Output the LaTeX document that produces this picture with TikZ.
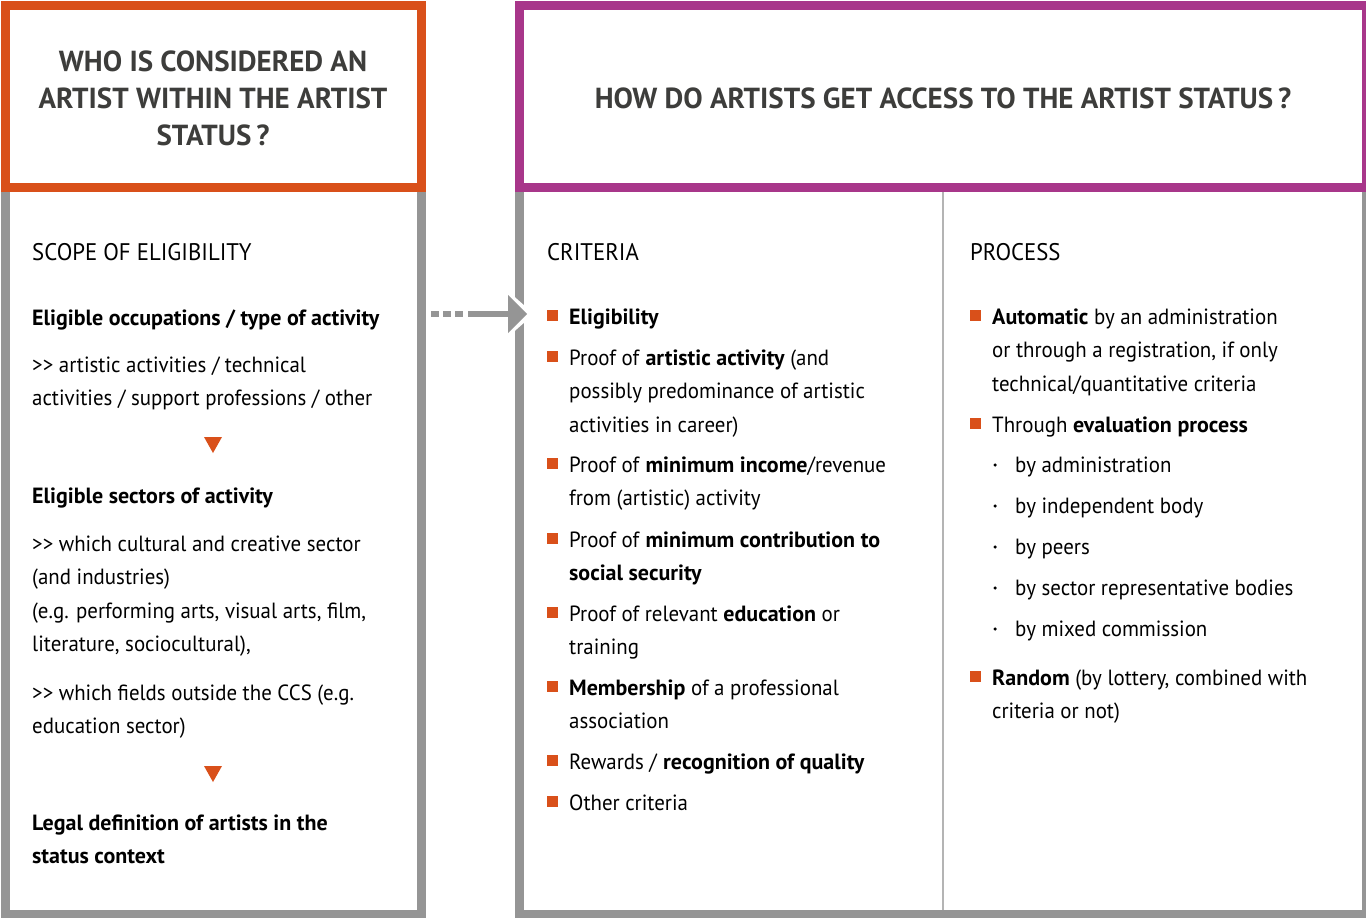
\documentclass[tikz,border=0pt]{standalone}
\usepackage{fontspec}
\setmainfont{PT Sans}[FakeStretch=0.95, BoldFeatures={FakeStretch=1.0}]
\usetikzlibrary{positioning}
\definecolor{euorange}{RGB}{217,80,26}
\definecolor{eupurple}{RGB}{168,54,138}
\definecolor{boxgrey}{RGB}{149,149,149}
\definecolor{divgrey}{RGB}{180,180,180}
\definecolor{titlegrey}{RGB}{61,61,59}
\newcommand{\gtgt}{>\kern0pt>}

\begin{document}
\begin{tikzpicture}[x=1pt,y=-1pt]
\tikzstyle{frame}=[line width=9pt]
\tikzstyle{title}=[align=center, inner sep=0, text=titlegrey, font=\fontsize{29}{37}\selectfont\bfseries]
\tikzstyle{head}=[anchor=base west, inner sep=0, font=\fontsize{24}{33}\selectfont]
\tikzstyle{txt}=[anchor=base west, inner sep=0, align=left, font=\fontsize{22}{33.5}\selectfont]
\tikzstyle{sq}=[rectangle, fill=euorange, minimum size=11pt, inner sep=0]
\tikzstyle{subdot}=[circle, fill=black, minimum size=3.5pt, inner sep=0]
\useasboundingbox (0,0) rectangle (1366,918);

% frames
\draw[frame, boxgrey] (5.5,187) rectangle (421.5,914.5);
\draw[frame, boxgrey] (519.5,187) rectangle (1366,914.5);
\draw[divgrey, line width=1.5pt] (943,192) -- (943,910);
\draw[frame, euorange] (5.5,5.5) rectangle (421.5,187.5);
\draw[frame, eupurple] (519.5,5.5) rectangle (1366,187.5);

\node[title] (whoT) at (213,98) {WHO IS CONSIDERED AN\\ARTIST WITHIN THE ARTIST\\STATUS\,?};
\node[title] (howT) at (943,98) {HOW DO ARTISTS GET ACCESS TO THE ARTIST STATUS\,?};

% arrow between the two parts
\coordinate (arrA) at (431,314);
\coordinate (arrB) at (463,314);
\coordinate (arrC) at (468,314);
\coordinate (arrD) at (510,314);
\fill[white] (500,284) -- (534,314) -- (500,344) -- cycle;
\draw[boxgrey, line width=6pt, dash pattern=on 8pt off 4pt] (arrA) -- (arrB);
\draw[boxgrey, line width=6pt] (arrC) -- (arrD);
\fill[boxgrey] (508,295) -- (527,314) -- (508,333) -- cycle;

% scope of eligibility (multi-line nodes sit on their last baseline)
\node[head] (scope) at (32,260) {SCOPE OF ELIGIBILITY};
\node[txt] (occ) at (32,325) {\textbf{Eligible occupations / type of activity}};
\node[txt] (occtxt) at (32,405.5) {\gtgt{} artistic activities / technical\\activities / support professions / other};
\fill[euorange] (204,437) -- (222,437) -- (213,453) -- cycle;
\node[txt] (sect) at (32,503) {\textbf{Eligible sectors of activity}};
\node[txt] (secttxt) at (32,651.5) {\gtgt{} which cultural and creative sector\\(and industries)\\(e.g. performing arts, visual arts, film,\\literature, sociocultural),};
\node[txt] (fields) at (32,733.5) {\gtgt{} which fields outside the CCS (e.g.\\education sector)};
\fill[euorange] (204,766) -- (222,766) -- (213,782) -- cycle;
\node[txt] (legal) at (32,863.5) {\textbf{Legal definition of artists in the}\\\textbf{status context}};

% criteria
\node[head] (crit) at (547,260) {CRITERIA};
\node[txt] (c1) at (569,324) {\textbf{Eligibility}};
\node[txt] (c2) at (569,432) {Proof of \textbf{artistic activity} (and\\possibly predominance of artistic\\activities in career)};
\node[txt] (c3) at (569,505.5) {Proof of \textbf{minimum income}/revenue\\from (artistic) activity};
\node[txt] (c4) at (569,580.5) {Proof of \textbf{minimum contribution to}\\\textbf{social security}};
\node[txt] (c5) at (569,654.5) {Proof of relevant \textbf{education} or\\training};
\node[txt] (c6) at (569,728.5) {\textbf{Membership} of a professional\\association};
\node[txt] (c7) at (569,769) {Rewards / \textbf{recognition of quality}};
\node[txt] (c8) at (569,810) {Other criteria};
\foreach \y/\n in {324/1,365/2,472/3,547/4,621/5,695/6,769/7,810/8}
  \node[sq] (cb\n) at (552.5,\y-9) {};

% process
\node[head] (proc) at (970,260) {PROCESS};
\node[txt] (p1) at (992,391) {\textbf{Automatic} by an administration\\or through a registration, if only\\technical/quantitative criteria};
\node[txt] (p2) at (992,432) {Through \textbf{evaluation process}};
\node[txt] (s1) at (1015,472) {by administration};
\node[txt] (s2) at (1015,513) {by independent body};
\node[txt] (s3) at (1015,554) {by peers};
\node[txt] (s4) at (1015,595) {by sector representative bodies};
\node[txt] (s5) at (1015,636) {by mixed commission};
\node[txt] (p3) at (992,718.5) {\textbf{Random} (by lottery, combined with\\criteria or not)};
\foreach \y/\n in {324/1,432/2,685/3}
  \node[sq] (pb\n) at (975.5,\y-9) {};
\foreach \y/\n in {472/1,513/2,554/3,595/4,636/5}
  \node[subdot] (sd\n) at (995,\y-7) {};

\end{tikzpicture}
\end{document}
